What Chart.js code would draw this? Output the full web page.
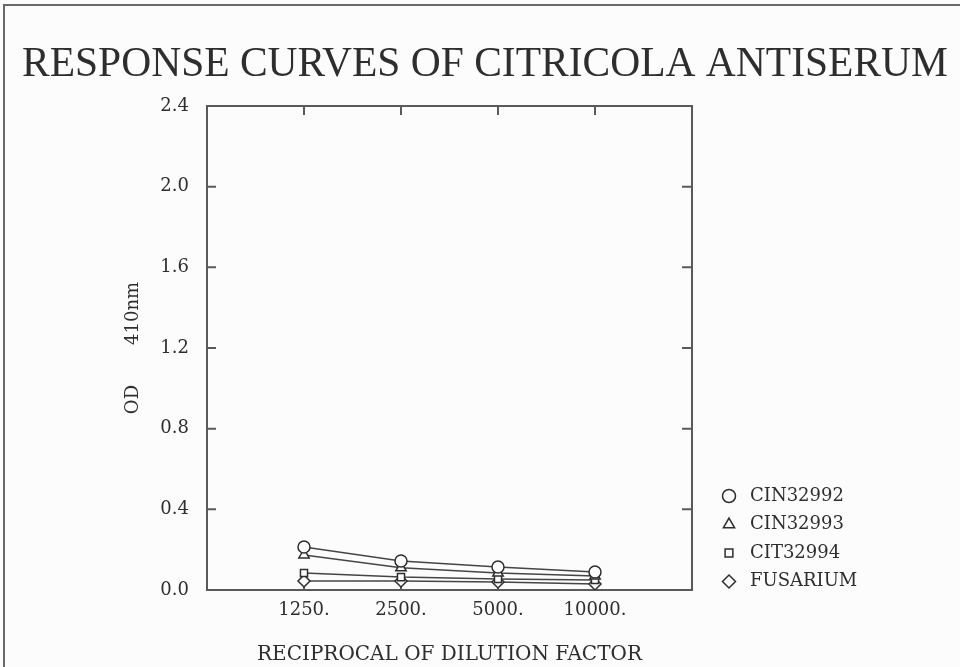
<!DOCTYPE html>
<html>
<head>
<meta charset="utf-8">
<title>Response curves of citricola antiserum</title>
<script src="https://cdn.jsdelivr.net/npm/chart.js@4.4.1/dist/chart.umd.min.js"></script>
<style>
    html, body { margin: 0; padding: 0; background: #fdfcfd; }
    #wrap { width: 960px; height: 667px; }
</style>
</head>
<body>
<div id="wrap"><canvas id="chart" width="960" height="667"></canvas></div>
<script>
// values
const dilutions = ['1250.', '2500.', '5000.', '10000.'];
const cin32992 = [0.213, 0.144, 0.114, 0.089];
const cin32993 = [0.174, 0.110, 0.084, 0.069];
const cit32994 = [0.084, 0.064, 0.055, 0.050];
const fusarium = [0.045, 0.045, 0.040, 0.030];
const yTicks = [0, 0.4, 0.8, 1.2, 1.6, 2.0, 2.4];

const seriesNames = ['CIN32992', 'CIN32993', 'CIT32994', 'FUSARIUM'];
const seriesMarks = ['circle', 'triangle', 'rect', 'rectRot'];
const seriesRadius = [6, 6, 5, 6];

const paper = '#fdfcfd';
const ink = '#2e2e2e';
const lineInk = '#454545';
const frameInk = '#5a5a5a';
const labelFont = '"DejaVu Serif", serif';

function toPoints(values) {
    return values.map((v, i) => ({ x: i + 1, y: v }));
}

const datasets = [cin32992, cin32993, cit32994, fusarium].map((values, i) => ({
    label: seriesNames[i],
    data: toPoints(values),
    borderColor: lineInk,
    borderWidth: 1.5,
    pointStyle: seriesMarks[i],
    pointRadius: seriesRadius[i],
    pointBorderColor: ink,
    pointBorderWidth: 1.5,
    pointBackgroundColor: paper,
    tension: 0
}));

// frame, inward ticks, title, legend, page border
const decorations = {
    id: 'decorations',
    beforeDatasetsDraw(chart) {
        const c = chart.ctx;
        const a = chart.chartArea;
        const xs = chart.scales.x;
        const ys = chart.scales.y;
        c.save();
        c.strokeStyle = frameInk;
        c.lineWidth = 2;
        c.strokeRect(a.left, a.top, a.right - a.left, a.bottom - a.top);
        c.beginPath();
        dilutions.forEach((_, i) => {
            const px = xs.getPixelForValue(i + 1);
            c.moveTo(px, a.top); c.lineTo(px, a.top + 9);
            c.moveTo(px, a.bottom); c.lineTo(px, a.bottom - 9);
        });
        yTicks.slice(1, -1).forEach(v => {
            const py = ys.getPixelForValue(v);
            c.moveTo(a.left, py); c.lineTo(a.left + 9, py);
            c.moveTo(a.right, py); c.lineTo(a.right - 10, py);
        });
        c.stroke();
        c.restore();
    },
    afterDraw(chart) {
        const c = chart.ctx;
        c.save();
        // page border (top and left edges of the scanned sheet)
        c.strokeStyle = '#6a6a6a';
        c.lineWidth = 2;
        c.beginPath();
        c.moveTo(4, 667); c.lineTo(4, 5); c.lineTo(960, 5);
        c.stroke();

        // title
        c.fillStyle = ink;
        c.font = '41.5px "Liberation Serif", serif';
        c.textAlign = 'left';
        c.textBaseline = 'alphabetic';
        c.fillText('RESPONSE CURVES OF CITRICOLA ANTISERUM', 22, 76);

        // legend
        c.font = '18px ' + labelFont;
        c.textBaseline = 'middle';
        seriesNames.forEach((name, i) => {
            const y = 496 + i * 28.5;
            c.fillStyle = paper;
            c.strokeStyle = ink;
            c.lineWidth = 1.5;
            Chart.helpers.drawPoint(c, {
                pointStyle: seriesMarks[i],
                radius: seriesRadius[i] + 0.5,
                rotation: 0,
                borderWidth: 1.5
            }, 729, y);
            c.fillStyle = ink;
            c.fillText(name, 750, y);
        });
        c.restore();
    }
};

new Chart(document.getElementById('chart'), {
    type: 'line',
    data: { datasets },
    options: {
        responsive: false,
        animation: false,
        layout: { padding: { left: 0, right: 268, top: 106, bottom: 0 } },
        scales: {
            x: {
                type: 'linear',
                min: 0,
                max: 5,
                afterBuildTicks: scale => {
                    scale.ticks = dilutions.map((_, i) => ({ value: i + 1 }));
                },
                afterFit: scale => { scale.height = 77; },
                grid: { display: false, drawTicks: false },
                border: { display: false },
                ticks: {
                    color: ink,
                    padding: 10,
                    maxRotation: 0,
                    font: { family: labelFont, size: 18 },
                    callback: v => dilutions[v - 1] ?? ''
                },
                title: {
                    display: true,
                    text: 'RECIPROCAL OF DILUTION FACTOR',
                    color: ink,
                    font: { family: labelFont, size: 20 },
                    padding: { top: 0, bottom: 0 }
                }
            },
            y: {
                min: 0,
                max: 2.4,
                afterBuildTicks: scale => {
                    scale.ticks = yTicks.map(v => ({ value: v }));
                },
                afterFit: scale => { scale.width = 207; },
                grid: { display: false, drawTicks: false },
                border: { display: false },
                ticks: {
                    color: ink,
                    padding: 18,
                    font: { family: labelFont, size: 18 },
                    callback: v => v.toFixed(1)
                },
                title: {
                    display: true,
                    text: 'OD       410nm',
                    color: ink,
                    font: { family: labelFont, size: 18 },
                    padding: { top: 123, bottom: 0 }
                }
            }
        },
        plugins: {
            legend: { display: false },
            tooltip: { enabled: false }
        }
    },
    plugins: [decorations]
});
</script>
</body>
</html>
